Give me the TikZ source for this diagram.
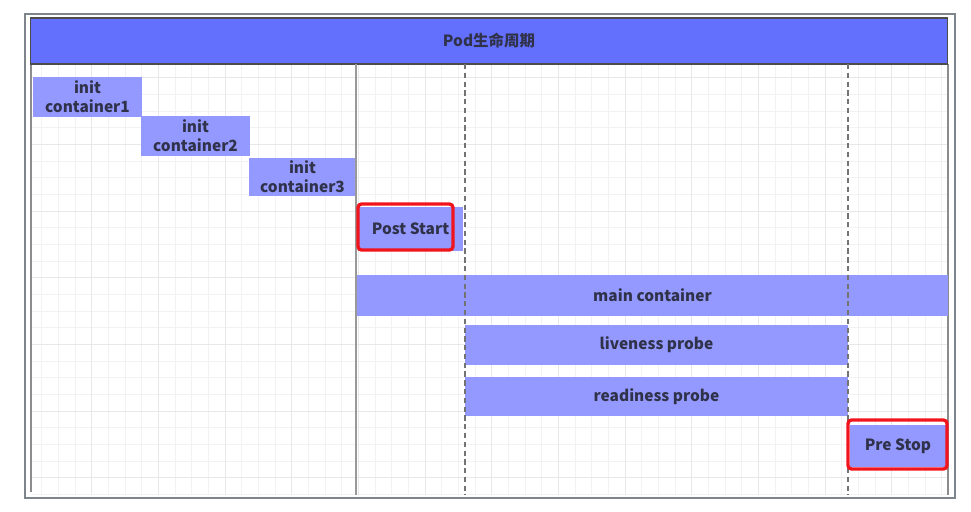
\documentclass[tikz,border=0pt]{standalone}
\usepackage{fontspec}
\setmainfont{Noto Sans CJK SC}
\usepackage{tikz}
\definecolor{PodHead}{HTML}{6370FE}
\definecolor{PodBar}{HTML}{9399FF}
\definecolor{PodText}{HTML}{30324A}
\definecolor{PodRed}{HTML}{F2141C}
\definecolor{PodFrame}{HTML}{7E848C}

\begin{document}
\begin{tikzpicture}[
    x=0.02cm, y=-0.02cm,
    bar/.style={fill=PodBar, inner sep=0pt, align=center, text=PodText,
      font=\bfseries\fontsize{8.8}{11}\selectfont},
    hook/.style={draw=PodRed, line width=1.9pt, rounded corners=2pt},
    minor/.style={draw=black!5, line width=0.4pt},
    major/.style={draw=black!9, line width=0.5pt},
    phase/.style={draw=black!55, line width=0.6pt, dash pattern=on 3pt off 2pt}
  ]
    \useasboundingbox[fill=white] (0,0) rectangle (971,511);

    % grid
    \begin{scope}
      \clip (31,64) rectangle (948,495);
      \foreach \i in {0,...,56} \draw[minor] ({25+16.667*\i},64) -- ++(0,431);
      \foreach \i in {0,...,30} \draw[minor] (31,{11+16.667*\i}) -- ++(917,0);
      \foreach \i in {0,...,14} \draw[major] ({25+66.667*\i},64) -- ++(0,431);
      \foreach \i in {0,...,7} \draw[major] (31,{11+66.667*\i}) -- ++(917,0);
    \end{scope}

    % frame and header
    \draw[PodFrame, line width=0.9pt] (25,14) rectangle (955,498);
    \draw[black!45, line width=0.8pt] (31,64) -- (31,492) (948,64) -- (948,495);
    \node[fill=PodHead, draw=black!70, line width=0.6pt, inner sep=0pt,
      minimum width=18.36cm, minimum height=0.92cm, text=PodText,
      font=\bfseries\fontsize{8.8}{11}\selectfont] (head) at (489,41) {Pod生命周期};

    % bars
    \node[bar, minimum width=2.18cm, minimum height=0.8cm] (init1) at (87.5,97) {init\\container1};
    \node[bar, minimum width=2.18cm, minimum height=0.8cm] (init2) at (195.5,136) {init\\container2};
    \node[bar, minimum width=2.14cm, minimum height=0.76cm] (init3) at (302.5,177) {init\\container3};
    \node[bar, minimum width=2.1cm, minimum height=0.88cm] (post) at (410.5,229) {Post Start};
    \node[bar, minimum width=11.82cm, minimum height=0.82cm] (main) at (652.5,295.5) {main container};
    \node[bar, minimum width=7.66cm, minimum height=0.8cm] (live) at (656.5,345) {liveness probe};
    \node[bar, minimum width=7.66cm, minimum height=0.78cm] (ready) at (656.5,396.5) {readiness probe};
    \node[bar, minimum width=1.92cm, minimum height=0.84cm] (pre) at (898,446) {Pre Stop};

    % phase lines
    \draw[black!40, line width=1.1pt] (356,64) -- (356,495);
    \draw[phase] (465,64) -- (465,495);
    \draw[phase] (848,64) -- (848,495);

    % highlights
    \draw[hook] (358,204) rectangle (453,250);
    \draw[hook] (848,420) rectangle (947,469);
  \end{tikzpicture}
\end{document}
